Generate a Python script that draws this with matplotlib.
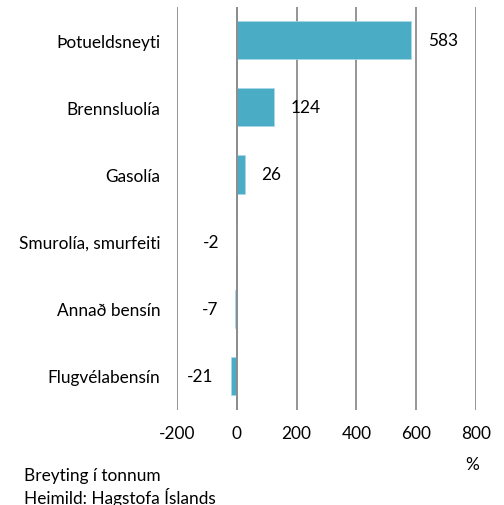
import matplotlib
matplotlib.use("Agg")
import matplotlib.pyplot as plt

categories = ["Þotueldsneyti", "Brennsluolía", "Gasolía", "Smurolía, smurfeiti", "Annað bensín", "Flugvélabensín"]
values = [583, 124, 26, -2, -7, -21]
xticks = [-200, 0, 200, 400, 600, 800]
xtick_labels = ["-200", "0", "200", "400", "600", "800"]

plt.rcParams['font.family'] = ['Lato', 'DejaVu Sans']
FS = 12.4

fig = plt.figure(figsize=(5.04, 5.06), dpi=100)
ax = fig.add_axes([177/504, 1 - 410.5/506, 299/504, 403/506])

ypos = list(range(len(categories)))
ax.barh(ypos, values, height=0.57, color="#4BACC6", edgecolor="#A9D8E6", linewidth=0.5, zorder=3)

ax.set_xlim(-200, 800)
ax.set_ylim(len(categories) - 0.5, -0.5)
ax.set_xticks(xticks)
ax.set_xticklabels(xtick_labels, fontsize=FS)
ax.set_yticks(ypos)
ax.set_yticklabels(categories, fontsize=FS)
ax.tick_params(axis="both", length=0)
ax.tick_params(axis="x", pad=11)
ax.tick_params(axis="y", pad=12)
ax.grid(axis="x", color="#8C8C8C", linewidth=1.3, zorder=1)
ax.axvline(0, color="#8C8C8C", linewidth=1.3, zorder=4)
for s in ax.spines.values():
    s.set_visible(False)

for y, v in zip(ypos, values):
    if v >= 0:
        ax.annotate(str(v), (v, y), xytext=(12.2, 0), textcoords="offset points",
                    ha="left", va="center", fontsize=FS)
    else:
        ax.annotate(str(v), (v, y), xytext=(-12.2, 0), textcoords="offset points",
                    ha="right", va="center", fontsize=FS)

fig.text(472/504, 1 - 465/506, "%", ha="center", va="center", fontsize=FS)
fig.text(24/504, 1 - 476/506, "Breyting í tonnum", ha="left", va="center", fontsize=FS)
fig.text(24/504, 1 - 497.5/506, "Heimild: Hagstofa Íslands", ha="left", va="center", fontsize=FS)

fig.savefig("out.png", dpi=100)
